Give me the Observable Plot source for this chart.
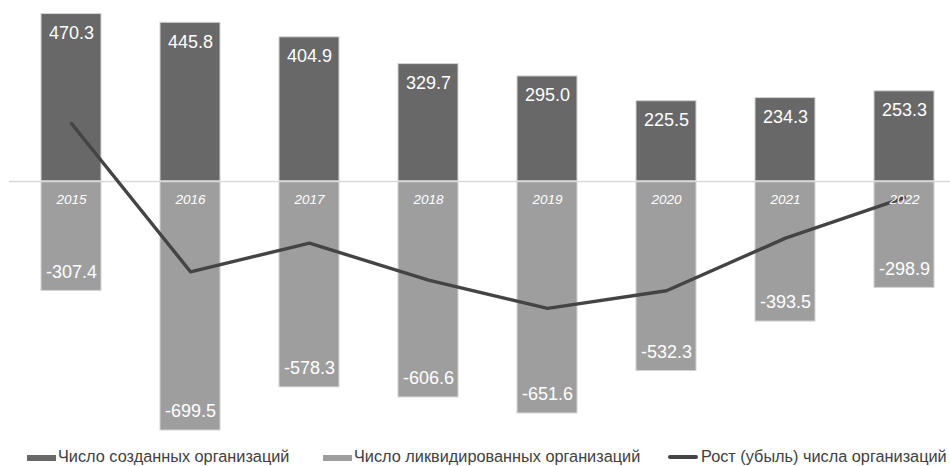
<!DOCTYPE html>
<html><head><meta charset="utf-8">
<script src="https://cdn.jsdelivr.net/npm/d3@7"></script>
<script src="https://cdn.jsdelivr.net/npm/@observablehq/plot@0.6"></script>
<style>
html,body{margin:0;padding:0;background:#fff;overflow:hidden;width:950px;height:466px;}
body{font-family:"Liberation Sans",Arial,sans-serif;}
#chart svg{display:block;}
#legend{position:relative;height:26px;width:950px;overflow:hidden;font-size:16.3px;color:#404040;}
.item{position:absolute;top:3px;height:26px;display:flex;align-items:center;white-space:nowrap;}
.sw{width:29px;height:6px;margin-right:2px;margin-top:3px;}
.ln{width:30px;height:3.5px;border-radius:2px;margin-right:3px;margin-top:2px;background:#444;}
</style>
</head><body>
<div id="chart"></div>
<div id="legend"></div>
<script>
const years = ["2015","2016","2017","2018","2019","2020","2021","2022"];
const created = [470.3, 445.8, 404.9, 329.7, 295.0, 225.5, 234.3, 253.3];
const liquidated = [-307.4, -699.5, -578.3, -606.6, -651.6, -532.3, -393.5, -298.9];
const growth = [162.9, -253.7, -173.4, -276.9, -356.6, -306.8, -159.2, -45.6];
const seriesNames = ["Число созданных организаций", "Число ликвидированных организаций", "Рост (убыль) числа организаций"];

const cDark = "#686868", cLight = "#9e9e9e", cLine = "#444444";

const createdData = years.map((y, i) => ({year: y, v: created[i]}));
const liqData = years.map((y, i) => ({year: y, v: liquidated[i]}));
const growthData = years.map((y, i) => ({year: y, v: growth[i]}));

const fmt = v => v.toFixed(1);

const plot = Plot.plot({
  width: 950,
  height: 440,
  marginLeft: 9,
  marginRight: 0,
  marginTop: 0,
  marginBottom: 0,
  style: {fontFamily: '"Liberation Sans", Arial, sans-serif', background: "#fff"},
  x: {domain: years, range: [27.4, 946.8], paddingInner: 0.5, paddingOuter: 0.1, axis: null},
  y: {domain: [-720, 480], range: [437.3, 10.1], axis: null},
  marks: [
    Plot.barY(createdData, {x: "year", y1: 0, y2: "v", fill: cDark, stroke: "#d4d4d4", strokeWidth: 1}),
    Plot.barY(liqData, {x: "year", y1: 0, y2: "v", fill: cLight, stroke: "#d4d4d4", strokeWidth: 1}),
    Plot.ruleY([0], {stroke: "#d9d9d9", strokeWidth: 1.5}),
    Plot.line(growthData, {x: "year", y: "v", stroke: cLine, strokeWidth: 3.4, strokeLinejoin: "round", strokeLinecap: "round"}),
    Plot.text(createdData, {x: "year", y: "v", text: d => fmt(d.v), dy: 19, fill: "#fff", fontSize: 18}),
    Plot.text(liqData, {x: "year", y: "v", text: d => fmt(d.v), dy: -19, fill: "#fff", fontSize: 18}),
    Plot.text(years, {x: d => d, y: 0, text: d => d, dy: 18, fill: "#fff", fontSize: 13.5, fontStyle: "italic"})
  ]
});
document.getElementById("chart").appendChild(plot);

const legend = document.getElementById("legend");
const lefts = [27, 323, 668];
seriesNames.forEach((name, i) => {
  const it = document.createElement("div");
  it.className = "item";
  it.style.left = lefts[i] + "px";
  const sw = document.createElement("div");
  if (i < 2) { sw.className = "sw"; sw.style.background = i === 0 ? cDark : cLight; }
  else { sw.className = "ln"; }
  const t = document.createElement("span");
  t.textContent = name;
  it.appendChild(sw); it.appendChild(t);
  legend.appendChild(it);
});
</script>
</body></html>
